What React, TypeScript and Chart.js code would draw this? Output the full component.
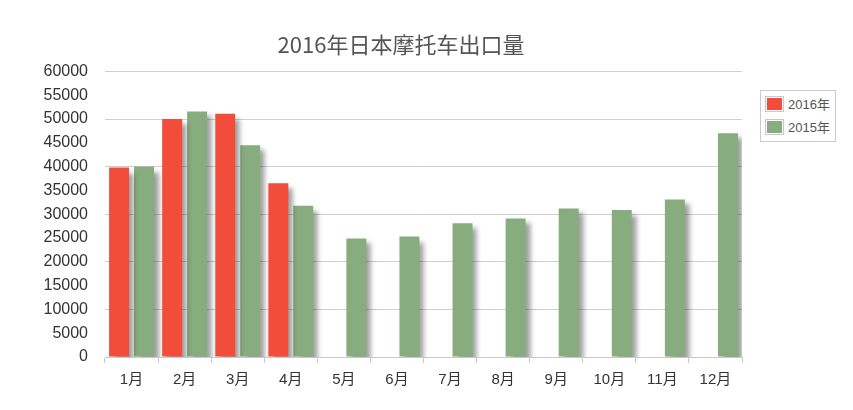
import React, { useEffect, useRef } from "react";
import { Chart, registerables } from "chart.js";

Chart.register(...registerables);

const title = "2016年日本摩托车出口量";
const months = ["1月", "2月", "3月", "4月", "5月", "6月", "7月", "8月", "9月", "10月", "11月", "12月"];
const seriesNames = ["2016年", "2015年"];
const seriesColors = ["#f24c3a", "#87ac7e"];
const values2016 = [39800, 50000, 51100, 36500, null, null, null, null, null, null, null, null];
const values2015 = [40000, 51600, 44500, 31800, 24900, 25300, 28100, 29100, 31200, 30900, 33100, 47000];
const yMax = 60000;
const yStep = 5000;
const gridStep = 10000;

const shadowPlugin = {
  id: "barShadow",
  beforeDatasetsDraw(chart: any) {
    const ctx = chart.ctx;
    ctx.save();
    ctx.shadowColor = "rgba(0,0,0,0.38)";
    ctx.shadowBlur = 5;
    ctx.shadowOffsetX = 5;
    ctx.shadowOffsetY = 5;
  },
  afterDatasetsDraw(chart: any) {
    chart.ctx.restore();
  },
};

export default function App() {
  const ref = useRef<HTMLCanvasElement | null>(null);

  useEffect(() => {
    document.body.style.margin = "0";
    const font = '"Liberation Sans", "Noto Sans CJK SC", sans-serif';
    const chart = new Chart(ref.current as HTMLCanvasElement, {
      type: "bar",
      data: {
        labels: months,
        datasets: [
          {
            label: seriesNames[0],
            data: values2016,
            backgroundColor: seriesColors[0],
            borderWidth: 0,
            categoryPercentage: 0.94,
            barPercentage: 0.8,
          },
          {
            label: seriesNames[1],
            data: values2015,
            backgroundColor: seriesColors[1],
            borderWidth: 0,
            categoryPercentage: 0.94,
            barPercentage: 0.8,
          },
        ],
      },
      options: {
        responsive: false,
        animation: false,
        devicePixelRatio: 1,
        layout: { padding: { left: 0, right: 0, top: 0, bottom: 13 } },
        plugins: {
          legend: { display: false },
          tooltip: { enabled: false },
          title: {
            display: true,
            text: title,
            color: "#555",
            font: { family: '"Noto Sans CJK SC", sans-serif', size: 22, weight: "normal" },
            padding: { top: 31, bottom: 14 },
          },
        },
        scales: {
          x: {
            grid: {
              display: true,
              drawOnChartArea: false,
              drawTicks: true,
              tickLength: 6,
              color: "#c8c8c8",
              offset: true,
            },
            border: { color: "#c8c8c8" },
            ticks: {
              color: "#333",
              padding: 8,
              font: { family: font, size: 15 },
            },
          },
          y: {
            min: 0,
            max: yMax,
            afterFit: (s: any) => {
              s.width = 105;
            },
            ticks: {
              stepSize: yStep,
              color: "#333",
              padding: 17,
              font: { family: font, size: 16 },
              callback: (v: any) => String(v),
            },
            grid: {
              drawTicks: false,
              color: (c: any) =>
                c.tick && c.tick.value > 0 && c.tick.value % gridStep === 0 ? "#cfcfcf" : "rgba(0,0,0,0)",
            },
            border: { display: false },
          },
          yRight: {
            position: "right",
            min: 0,
            max: yMax,
            afterFit: (s: any) => {
              s.width = 60;
            },
            ticks: { display: false },
            grid: { display: false },
            border: { display: false },
          },
        },
      },
      plugins: [shadowPlugin],
    });
    return () => chart.destroy();
  }, []);

  return (
    <div style={{ position: "relative", width: 853, height: 410, background: "#fff" }}>
      <canvas ref={ref} width={802} height={410} style={{ display: "block" }} />
      <div
        style={{
          position: "absolute",
          left: 760,
          top: 90,
          width: 74,
          height: 50,
          border: "1px solid #cccccc",
          background: "#fff",
          fontFamily: '"Liberation Sans", "Noto Sans CJK SC", sans-serif',
          fontSize: 13,
          color: "#555",
        }}
      >
        {seriesNames.map((n, i) => (
          <div key={n} style={{ display: "flex", alignItems: "center", marginLeft: 4, marginTop: i === 0 ? 3 : 4 }}>
            <span
              style={{
                display: "inline-block",
                width: 15,
                height: 12,
                border: "1px solid #c8c8c8",
                padding: 1,
                backgroundClip: "content-box",
                background: seriesColors[i],
                boxShadow: "inset 0 0 0 1px #fff",
                marginRight: 4,
              }}
            />
            <span>{n}</span>
          </div>
        ))}
      </div>
    </div>
  );
}
